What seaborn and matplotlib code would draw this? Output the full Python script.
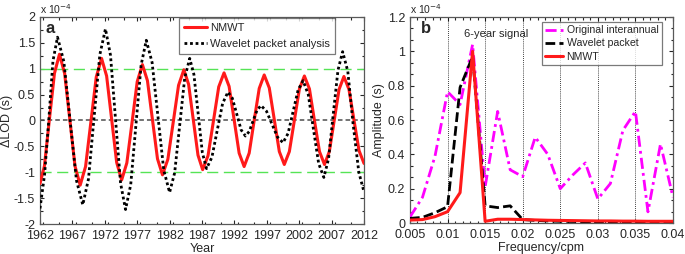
import numpy as np
import pandas as pd
import matplotlib
matplotlib.use("Agg")
import matplotlib.pyplot as plt
from matplotlib.ticker import MultipleLocator, FormatStrFormatter
import seaborn as sns

# ---- panel a: Delta LOD (units of 1e-4 s) ----
nmwt_year = [1962.0, 1962.68, 1963.45, 1964.23, 1965.0, 1965.8, 1966.6, 1967.4, 1968.2,
             1969.03, 1969.85, 1970.68, 1971.5, 1972.28, 1973.05, 1973.83, 1974.6,
             1975.4, 1976.2, 1977.0, 1977.8, 1978.58, 1979.35, 1980.13, 1980.9,
             1981.73, 1982.55, 1983.38, 1984.2, 1984.93, 1985.65, 1986.38, 1987.1,
             1987.93, 1988.75, 1989.58, 1990.4, 1991.18, 1991.95, 1992.73, 1993.5,
             1994.28, 1995.05, 1995.83, 1996.6, 1997.38, 1998.15, 1998.93, 1999.7,
             2000.48, 2001.25, 2002.03, 2002.8, 2003.58, 2004.35, 2005.13, 2005.9,
             2006.65, 2007.4, 2008.15, 2008.9, 2009.68, 2010.45, 2011.23, 2012.0]
nmwt_lod = [-1.22, -0.88, 0.02, 0.91, 1.28, 0.91, 0.02, -0.88, -1.25,
            -0.89, -0.03, 0.84, 1.20, 0.86, 0.03, -0.81, -1.15,
            -0.82, -0.04, 0.75, 1.08, 0.77, 0.02, -0.74, -1.05,
            -0.75, -0.04, 0.68, 0.98, 0.70, 0.02, -0.67, -0.95,
            -0.68, -0.02, 0.65, 0.92, 0.66, 0.02, -0.63, -0.89,
            -0.63, 0.00, 0.62, 0.88, 0.63, 0.02, -0.60, -0.85,
            -0.60, 0.00, 0.61, 0.86, 0.61, 0.00, -0.60, -0.85,
            -0.60, 0.00, 0.60, 0.85, 0.60, 0.01, -0.58, -0.83]

wpa_year = [1962.0, 1962.7, 1963.35, 1964.0, 1964.7, 1965.68, 1966.65, 1967.63, 1968.6,
            1969.48, 1970.35, 1971.23, 1972.1, 1972.88, 1973.65, 1974.43, 1975.2,
            1976.0, 1976.8, 1977.6, 1978.4, 1979.3, 1980.2, 1981.1, 1982.0,
            1982.78, 1983.55, 1984.33, 1985.1, 1985.75, 1986.4, 1987.05, 1987.7,
            1988.53, 1989.35, 1990.18, 1991.0, 1991.68, 1992.35, 1993.03, 1993.7,
            1994.3, 1994.9, 1995.5, 1996.1, 1996.95, 1997.8, 1998.65, 1999.5,
            2000.28, 2001.05, 2001.83, 2002.6, 2003.4, 2004.2, 2005.0, 2005.8,
            2006.53, 2007.25, 2007.98, 2008.7, 2009.5, 2010.3, 2011.2, 2012.0]
wpa_lod = [-1.70, -1.05, 0.00, 1.15, 1.61, 1.14, -0.01, -1.16, -1.63,
           -1.13, 0.07, 1.27, 1.77, 1.26, 0.03, -1.21, -1.72,
           -1.24, -0.09, 1.07, 1.55, 1.12, 0.08, -0.96, -1.39,
           -1.01, -0.10, 0.82, 1.20, 0.89, 0.14, -0.62, -0.93,
           -0.71, -0.19, 0.33, 0.55, 0.43, 0.13, -0.18, -0.30,
           -0.21, 0.00, 0.20, 0.29, 0.18, -0.07, -0.32, -0.43,
           -0.25, 0.17, 0.59, 0.77, 0.50, -0.17, -0.83, -1.10,
           -0.74, 0.12, 0.97, 1.33, 0.95, -0.05, -1.00, -1.38]

year_ticks = [1962, 1967, 1972, 1977, 1982, 1987, 1992, 1997, 2002, 2007, 2012]

# ---- panel b: amplitude spectra (units of 1e-4 s), frequency k/600 cpm ----
freq = [k / 600 for k in range(3, 25)]
amp_original = [0.035, 0.15, 0.39, 0.765, 0.69, 1.04, 0.21, 0.65, 0.31, 0.27, 0.50,
                0.40, 0.20, 0.28, 0.35, 0.14, 0.23, 0.54, 0.65, 0.065, 0.46, 0.15]
amp_wavelet = [0.027, 0.033, 0.06, 0.095, 0.79, 0.97, 0.10, 0.09, 0.10, 0.02, 0.015,
               0.012, 0.01, 0.009, 0.008, 0.007, 0.006, 0.006, 0.005, 0.005, 0.005, 0.005]
amp_nmwt = [0.017, 0.02, 0.037, 0.066, 0.177, 1.0, 0.01, 0.022, 0.022, 0.02, 0.018,
            0.016, 0.015, 0.014, 0.013, 0.012, 0.012, 0.011, 0.011, 0.01, 0.01, 0.01]
freq_ticks = [0.005, 0.01, 0.015, 0.02, 0.025, 0.03, 0.035, 0.04]


def style_axes(ax):
    ax.tick_params(direction="in", top=True, right=True, which="both",
                   labelsize=9, length=3, width=0.8)
    ax.tick_params(axis="x", which="major", pad=4.6)
    ax.tick_params(axis="y", which="major", pad=3.5)
    ax.tick_params(which="minor", length=1.8)
    for s in ax.spines.values():
        s.set_color("0.35")
        s.set_linewidth(0.9)


def add_legend(ax, anchor, size, hlen, spacing, bpad):
    leg = ax.legend(loc="upper right", bbox_to_anchor=anchor, borderaxespad=0,
                    fontsize=size, frameon=True, fancybox=False, handlelength=hlen,
                    borderpad=bpad, labelspacing=spacing, handletextpad=0.3)
    leg.get_frame().set_edgecolor("0.35")
    leg.get_frame().set_linewidth(0.9)


sns.set_style("ticks")
plt.rcParams["font.family"] = ["Liberation Sans", "DejaVu Sans"]
plt.rcParams["axes.unicode_minus"] = False

fig = plt.figure(figsize=(6.85, 2.54), dpi=100)
ax_a = fig.add_axes([0.0584, 0.1181, 0.473, 0.815])
ax_b = fig.add_axes([0.5985, 0.122, 0.384, 0.811])

# panel a
df_a = pd.DataFrame({"year": nmwt_year, "lod": nmwt_lod})
df_w = pd.DataFrame({"year": wpa_year, "lod": wpa_lod})
ax_a.axhline(0, color="0.3", lw=1.1, ls=(0, (3, 2)), zorder=1)
for lvl in (1, -1):
    ax_a.axhline(lvl, color="#55e455", lw=1.0, ls=(0, (8, 4)), zorder=1)
sns.lineplot(data=df_a, x="year", y="lod", ax=ax_a, color="#ff1a1a", lw=2.2,
             sort=False, estimator=None, label="NMWT", zorder=3)
sns.lineplot(data=df_w, x="year", y="lod", ax=ax_a, color="black", lw=2.0,
             ls=(0, (1, 1)), sort=False, estimator=None,
             label="Wavelet packet analysis", zorder=4)
ax_a.set_xlim(1962, 2012)
ax_a.set_ylim(-2, 2)
ax_a.set_xticks(year_ticks)
ax_a.set_yticks(np.arange(-2, 2.01, 0.5))
ax_a.yaxis.set_minor_locator(MultipleLocator(0.25))
ax_a.xaxis.set_minor_locator(MultipleLocator(2.5))
ax_a.yaxis.set_major_formatter(FormatStrFormatter("%g"))
ax_a.set_xlabel("Year", fontsize=9, labelpad=0.2)
ax_a.set_ylabel("\u0394LOD (s)", fontsize=9, labelpad=1)
ax_a.text(0.0, 1.004, "x 10$^{-4}$", transform=ax_a.transAxes, fontsize=7.5, va="bottom")
ax_a.text(0.032, 0.945, "a", transform=ax_a.transAxes, fontsize=12,
          fontweight="bold", ha="center", va="center")
add_legend(ax_a, (0.91, 0.997), 8, 2.0, 0.55, 0.45)
style_axes(ax_a)

# panel b
df_b = pd.DataFrame({"freq": freq, "orig": amp_original,
                     "wav": amp_wavelet, "nmwt": amp_nmwt})
for f in freq_ticks[1:-1]:
    ax_b.axvline(f, color="black", lw=0.6, ls=(0, (1, 1.5)), zorder=1)
sns.lineplot(data=df_b, x="freq", y="orig", ax=ax_b, color="#ff00ff", lw=2.0,
             ls=(0, (4, 1.5, 1, 1.5)), sort=False, estimator=None,
             label="Original interannual", zorder=3)
sns.lineplot(data=df_b, x="freq", y="wav", ax=ax_b, color="black", lw=2.0,
             ls=(0, (3.5, 1.5)), sort=False, estimator=None,
             label="Wavelet packet", zorder=4)
sns.lineplot(data=df_b, x="freq", y="nmwt", ax=ax_b, color="#ff1a1a", lw=2.2,
             sort=False, estimator=None, label="NMWT", zorder=5)
ax_b.set_xlim(0.005, 0.04)
ax_b.set_ylim(0, 1.2)
ax_b.set_xticks(freq_ticks)
ax_b.set_yticks(np.arange(0, 1.21, 0.2))
ax_b.xaxis.set_major_formatter(FormatStrFormatter("%g"))
ax_b.yaxis.set_major_formatter(FormatStrFormatter("%g"))
ax_b.xaxis.set_minor_locator(MultipleLocator(0.001))
ax_b.yaxis.set_minor_locator(MultipleLocator(0.2 / 3))
ax_b.set_xlabel("Frequency/cpm", fontsize=9, labelpad=0.2)
ax_b.set_ylabel("Amplitude (s)", fontsize=9, labelpad=2)
ax_b.text(0.0, 1.004, "x 10$^{-4}$", transform=ax_b.transAxes, fontsize=7.5, va="bottom")
ax_b.text(0.061, 0.945, "b", transform=ax_b.transAxes, fontsize=12,
          fontweight="bold", ha="center", va="center")
ax_b.text(0.0164, 1.10, "6-year signal", fontsize=8, ha="center", va="center", zorder=6)
add_legend(ax_b, (0.958, 0.978), 7.6, 1.7, 0.3, 0.35)
style_axes(ax_b)

fig.savefig("out.png", dpi=100)
